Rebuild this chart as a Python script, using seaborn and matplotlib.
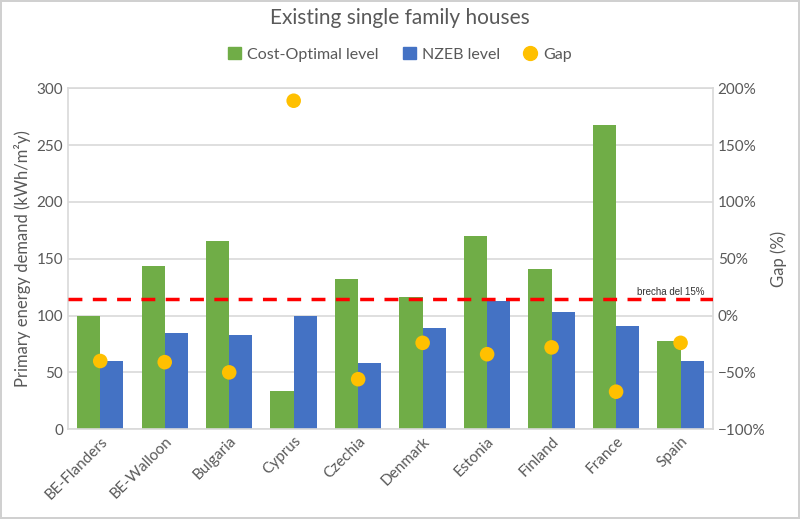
import seaborn as sns
import pandas as pd
import matplotlib.pyplot as plt
from matplotlib.lines import Line2D
from matplotlib.patches import Patch
from matplotlib.ticker import PercentFormatter

countries = ["BE-Flanders", "BE-Walloon", "Bulgaria", "Cyprus", "Czechia",
             "Denmark", "Estonia", "Finland", "France", "Spain"]
cost_optimal = [100, 144, 166, 34, 132, 116, 170, 141, 268, 78]
nzeb = [60, 85, 83, 100, 58, 89, 113, 103, 91, 60]
gap = [-40, -41, -50, 189, -56, -24, -34, -28, -67, -24]
threshold = 15

GREEN = "#70AD47"
BLUE = "#4472C4"
GOLD = "#FFC000"
GREY = "#595959"

bars = pd.DataFrame({
    "country": countries * 2,
    "level": ["Cost-Optimal level"] * len(countries) + ["NZEB level"] * len(countries),
    "value": cost_optimal + nzeb,
})
gaps = pd.DataFrame({"country": countries, "gap": gap})

sns.set_style("white")
plt.rcParams["font.family"] = ["Lato", "DejaVu Sans"]

fig = plt.figure(figsize=(8, 5.19), dpi=100, edgecolor="#D0D0D0", linewidth=1.5)
ax = fig.add_axes([0.085, 0.173, 0.806, 0.657])

sns.barplot(data=bars, x="country", y="value", hue="level",
            palette=[GREEN, BLUE], saturation=1, width=0.72, linewidth=0,
            ax=ax, legend=False)
ax.set_ylim(0, 300)
ax.set_xlim(-0.5, len(countries) - 0.5)
ax.set_yticks(range(0, 301, 50))
ax.grid(axis="y", color="#D9D9D9", linewidth=1.2)
ax.set_axisbelow(True)
for s in ax.spines.values():
    s.set_color("#D9D9D9")
    s.set_linewidth(1.2)
ax.tick_params(axis="both", colors=GREY, labelsize=11, length=0)
ax.set_xlabel("")
ax.set_ylabel("Primary energy demand (kWh/m²y)", color=GREY, fontsize=12)
plt.setp(ax.get_xticklabels(), rotation=45, ha="right", rotation_mode="anchor")

ax2 = ax.twinx()
sns.scatterplot(data=gaps, x="country", y="gap", color=GOLD, s=110,
                edgecolor="none", ax=ax2, zorder=5)
ax2.set_ylim(-100, 200)
ax2.set_yticks(range(-100, 201, 50))
ax2.yaxis.set_major_formatter(PercentFormatter(decimals=0))
ax2.tick_params(axis="y", colors=GREY, labelsize=11, length=0)
ax2.set_ylabel("Gap (%)", color=GREY, fontsize=12)
for s in ax2.spines.values():
    s.set_visible(False)

ax2.axhline(threshold, color="#FF0000", linestyle=(0, (4, 3)), linewidth=2.5, zorder=4)
ax2.text(8.33, threshold + 3.5, "brecha del 15%", fontsize=7, color="#333333",
         family=["Liberation Sans", "DejaVu Sans"])

handles = [
    Patch(color=GREEN, label="Cost-Optimal level"),
    Patch(color=BLUE, label="NZEB level"),
    Line2D([], [], marker="o", linestyle="none", color=GOLD, markersize=10, label="Gap"),
]
fig.legend(handles=handles, loc="center", bbox_to_anchor=(0.5, 0.895), ncol=3,
           frameon=False, fontsize=11.5, handlelength=0.8, handleheight=0.8,
           handletextpad=0.4, columnspacing=1.5, labelcolor=GREY)
fig.suptitle("Existing single family houses", y=0.985, fontsize=15, color=GREY)

fig.savefig("out.png", dpi=100)
